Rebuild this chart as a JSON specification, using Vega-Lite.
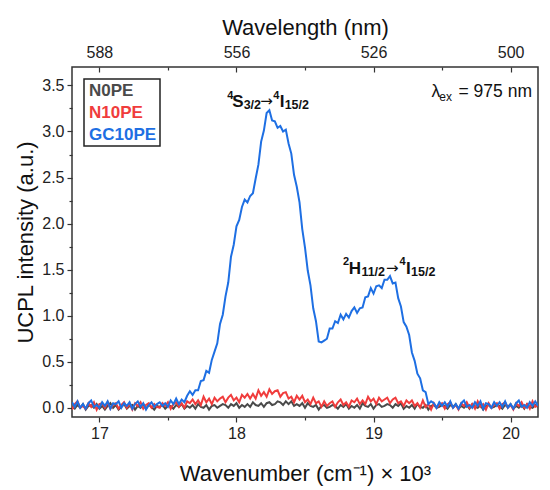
{
  "$schema": "https://vega.github.io/schema/vega-lite/v6.json",
  "width": 466,
  "height": 350,
  "padding": {"left": 14, "top": 16, "right": 5, "bottom": 5},
  "background": "white",
  "config": {
    "font": "Liberation Sans",
    "view": {"stroke": "#333333", "strokeWidth": 1.5},
    "axis": {"domain": false, "grid": false, "tickColor": "#333333", "tickWidth": 1.2, "labelColor": "#222222", "titleColor": "#111111", "labelFontSize": 16, "titleFontSize": 22, "titleFontWeight": "normal"},
    "legend": {"symbolType": "circle", "symbolSize": 0, "symbolStrokeWidth": 0, "symbolOpacity": 0, "columnPadding": 0},
    "text": {"color": "#111111", "font": "Liberation Sans"}
  },
  "data": {"values": [
    {"x":16.80,"N0PE":0.01,"N10PE":-0.02,"GC10PE":0.06},
    {"x":16.82,"N0PE":-0.01,"N10PE":0.04,"GC10PE":0.01},
    {"x":16.84,"N0PE":0.03,"N10PE":0.07,"GC10PE":0.07},
    {"x":16.86,"N0PE":0.00,"N10PE":0.00,"GC10PE":0.00},
    {"x":16.88,"N0PE":0.04,"N10PE":0.02,"GC10PE":0.04},
    {"x":16.90,"N0PE":-0.02,"N10PE":-0.01,"GC10PE":-0.01},
    {"x":16.92,"N0PE":0.02,"N10PE":0.05,"GC10PE":0.05},
    {"x":16.94,"N0PE":0.03,"N10PE":0.01,"GC10PE":0.08},
    {"x":16.96,"N0PE":0.00,"N10PE":0.06,"GC10PE":0.01},
    {"x":16.98,"N0PE":0.04,"N10PE":-0.02,"GC10PE":0.03},
    {"x":17.00,"N0PE":-0.01,"N10PE":0.04,"GC10PE":0.00},
    {"x":17.02,"N0PE":0.02,"N10PE":0.05,"GC10PE":0.06},
    {"x":17.04,"N0PE":-0.02,"N10PE":0.00,"GC10PE":0.02},
    {"x":17.06,"N0PE":0.02,"N10PE":0.06,"GC10PE":0.07},
    {"x":17.08,"N0PE":0.05,"N10PE":-0.01,"GC10PE":-0.01},
    {"x":17.10,"N0PE":0.00,"N10PE":0.03,"GC10PE":0.05},
    {"x":17.12,"N0PE":0.03,"N10PE":0.05,"GC10PE":0.04},
    {"x":17.14,"N0PE":-0.02,"N10PE":-0.01,"GC10PE":0.07},
    {"x":17.16,"N0PE":0.01,"N10PE":0.03,"GC10PE":0.00},
    {"x":17.18,"N0PE":0.04,"N10PE":0.06,"GC10PE":0.05},
    {"x":17.20,"N0PE":-0.01,"N10PE":0.00,"GC10PE":0.02},
    {"x":17.22,"N0PE":0.02,"N10PE":0.04,"GC10PE":0.06},
    {"x":17.24,"N0PE":0.03,"N10PE":-0.02,"GC10PE":-0.01},
    {"x":17.26,"N0PE":-0.02,"N10PE":0.05,"GC10PE":0.04},
    {"x":17.28,"N0PE":0.02,"N10PE":0.02,"GC10PE":0.07},
    {"x":17.30,"N0PE":0.00,"N10PE":0.06,"GC10PE":0.01},
    {"x":17.32,"N0PE":0.04,"N10PE":-0.01,"GC10PE":0.05},
    {"x":17.34,"N0PE":-0.01,"N10PE":0.03,"GC10PE":-0.02},
    {"x":17.36,"N0PE":0.03,"N10PE":0.05,"GC10PE":0.03},
    {"x":17.38,"N0PE":0.01,"N10PE":0.00,"GC10PE":0.06},
    {"x":17.40,"N0PE":-0.02,"N10PE":0.04,"GC10PE":0.01},
    {"x":17.42,"N0PE":0.02,"N10PE":0.01,"GC10PE":0.04},
    {"x":17.44,"N0PE":0.01,"N10PE":0.00,"GC10PE":0.06},
    {"x":17.46,"N0PE":0.03,"N10PE":0.05,"GC10PE":0.02},
    {"x":17.48,"N0PE":-0.01,"N10PE":0.02,"GC10PE":0.05},
    {"x":17.50,"N0PE":0.02,"N10PE":0.06,"GC10PE":0.01},
    {"x":17.52,"N0PE":0.02,"N10PE":-0.01,"GC10PE":0.08},
    {"x":17.54,"N0PE":-0.01,"N10PE":0.04,"GC10PE":0.04},
    {"x":17.56,"N0PE":0.03,"N10PE":0.06,"GC10PE":0.10},
    {"x":17.58,"N0PE":0.01,"N10PE":0.01,"GC10PE":0.04},
    {"x":17.60,"N0PE":0.04,"N10PE":0.05,"GC10PE":0.09},
    {"x":17.62,"N0PE":-0.01,"N10PE":0.00,"GC10PE":0.06},
    {"x":17.64,"N0PE":0.02,"N10PE":0.07,"GC10PE":0.13},
    {"x":17.66,"N0PE":0.00,"N10PE":0.05,"GC10PE":0.18},
    {"x":17.68,"N0PE":0.03,"N10PE":0.09,"GC10PE":0.14},
    {"x":17.70,"N0PE":-0.01,"N10PE":0.04,"GC10PE":0.19},
    {"x":17.72,"N0PE":0.04,"N10PE":0.08,"GC10PE":0.19},
    {"x":17.74,"N0PE":0.01,"N10PE":0.03,"GC10PE":0.29},
    {"x":17.76,"N0PE":0.00,"N10PE":0.12,"GC10PE":0.30},
    {"x":17.78,"N0PE":0.03,"N10PE":0.06,"GC10PE":0.40},
    {"x":17.80,"N0PE":-0.02,"N10PE":0.10,"GC10PE":0.38},
    {"x":17.82,"N0PE":0.02,"N10PE":0.04,"GC10PE":0.52},
    {"x":17.84,"N0PE":0.03,"N10PE":0.11,"GC10PE":0.61},
    {"x":17.86,"N0PE":0.00,"N10PE":0.07,"GC10PE":0.70},
    {"x":17.88,"N0PE":0.02,"N10PE":0.10,"GC10PE":0.91},
    {"x":17.90,"N0PE":0.04,"N10PE":0.12,"GC10PE":1.01},
    {"x":17.92,"N0PE":0.03,"N10PE":0.06,"GC10PE":1.21},
    {"x":17.94,"N0PE":0.00,"N10PE":0.11,"GC10PE":1.36},
    {"x":17.96,"N0PE":0.04,"N10PE":0.14,"GC10PE":1.64},
    {"x":17.98,"N0PE":0.02,"N10PE":0.08,"GC10PE":1.77},
    {"x":18.00,"N0PE":0.05,"N10PE":0.11,"GC10PE":1.97},
    {"x":18.02,"N0PE":0.00,"N10PE":0.06,"GC10PE":2.04},
    {"x":18.04,"N0PE":0.03,"N10PE":0.14,"GC10PE":2.18},
    {"x":18.06,"N0PE":0.01,"N10PE":0.11,"GC10PE":2.26},
    {"x":18.08,"N0PE":0.04,"N10PE":0.15,"GC10PE":2.23},
    {"x":18.10,"N0PE":0.01,"N10PE":0.10,"GC10PE":2.30},
    {"x":18.12,"N0PE":0.06,"N10PE":0.15,"GC10PE":2.33},
    {"x":18.14,"N0PE":0.03,"N10PE":0.10,"GC10PE":2.49},
    {"x":18.16,"N0PE":0.02,"N10PE":0.19,"GC10PE":2.64},
    {"x":18.18,"N0PE":0.05,"N10PE":0.13,"GC10PE":2.89},
    {"x":18.20,"N0PE":0.01,"N10PE":0.17,"GC10PE":3.01},
    {"x":18.22,"N0PE":0.05,"N10PE":0.12,"GC10PE":3.20},
    {"x":18.24,"N0PE":0.06,"N10PE":0.20,"GC10PE":3.23},
    {"x":18.26,"N0PE":0.03,"N10PE":0.15,"GC10PE":3.12},
    {"x":18.28,"N0PE":0.04,"N10PE":0.18,"GC10PE":3.11},
    {"x":18.30,"N0PE":0.07,"N10PE":0.19,"GC10PE":3.04},
    {"x":18.32,"N0PE":0.06,"N10PE":0.12,"GC10PE":3.06},
    {"x":18.34,"N0PE":0.03,"N10PE":0.16,"GC10PE":3.00},
    {"x":18.36,"N0PE":0.07,"N10PE":0.17,"GC10PE":3.02},
    {"x":18.38,"N0PE":0.04,"N10PE":0.10,"GC10PE":2.87},
    {"x":18.40,"N0PE":0.07,"N10PE":0.12,"GC10PE":2.76},
    {"x":18.42,"N0PE":0.02,"N10PE":0.06,"GC10PE":2.53},
    {"x":18.44,"N0PE":0.04,"N10PE":0.13,"GC10PE":2.40},
    {"x":18.46,"N0PE":0.02,"N10PE":0.09,"GC10PE":2.23},
    {"x":18.48,"N0PE":0.05,"N10PE":0.13,"GC10PE":1.94},
    {"x":18.50,"N0PE":0.00,"N10PE":0.06,"GC10PE":1.74},
    {"x":18.52,"N0PE":0.05,"N10PE":0.09,"GC10PE":1.49},
    {"x":18.54,"N0PE":0.02,"N10PE":0.04,"GC10PE":1.33},
    {"x":18.56,"N0PE":0.01,"N10PE":0.11,"GC10PE":1.08},
    {"x":18.58,"N0PE":0.03,"N10PE":0.05,"GC10PE":0.94},
    {"x":18.60,"N0PE":-0.02,"N10PE":0.07,"GC10PE":0.72},
    {"x":18.62,"N0PE":0.02,"N10PE":0.01,"GC10PE":0.71},
    {"x":18.64,"N0PE":0.03,"N10PE":0.07,"GC10PE":0.73},
    {"x":18.66,"N0PE":0.00,"N10PE":0.02,"GC10PE":0.75},
    {"x":18.68,"N0PE":0.01,"N10PE":0.05,"GC10PE":0.86},
    {"x":18.70,"N0PE":0.03,"N10PE":0.07,"GC10PE":0.86},
    {"x":18.72,"N0PE":0.02,"N10PE":0.01,"GC10PE":0.94},
    {"x":18.74,"N0PE":-0.01,"N10PE":0.06,"GC10PE":0.92},
    {"x":18.76,"N0PE":0.03,"N10PE":0.09,"GC10PE":1.01},
    {"x":18.78,"N0PE":0.01,"N10PE":0.03,"GC10PE":0.96},
    {"x":18.80,"N0PE":0.04,"N10PE":0.06,"GC10PE":1.02},
    {"x":18.82,"N0PE":-0.01,"N10PE":0.01,"GC10PE":0.98},
    {"x":18.84,"N0PE":0.02,"N10PE":0.08,"GC10PE":1.05},
    {"x":18.86,"N0PE":0.00,"N10PE":0.06,"GC10PE":1.09},
    {"x":18.88,"N0PE":0.03,"N10PE":0.10,"GC10PE":1.03},
    {"x":18.90,"N0PE":-0.01,"N10PE":0.04,"GC10PE":1.08},
    {"x":18.92,"N0PE":0.05,"N10PE":0.08,"GC10PE":1.09},
    {"x":18.94,"N0PE":0.02,"N10PE":0.04,"GC10PE":1.20},
    {"x":18.96,"N0PE":0.01,"N10PE":0.12,"GC10PE":1.21},
    {"x":18.98,"N0PE":0.04,"N10PE":0.07,"GC10PE":1.30},
    {"x":19.00,"N0PE":-0.01,"N10PE":0.10,"GC10PE":1.24},
    {"x":19.02,"N0PE":0.03,"N10PE":0.04,"GC10PE":1.32},
    {"x":19.04,"N0PE":0.04,"N10PE":0.11,"GC10PE":1.33},
    {"x":19.06,"N0PE":0.01,"N10PE":0.07,"GC10PE":1.30},
    {"x":19.08,"N0PE":0.02,"N10PE":0.09,"GC10PE":1.39},
    {"x":19.10,"N0PE":0.04,"N10PE":0.11,"GC10PE":1.39},
    {"x":19.12,"N0PE":0.03,"N10PE":0.05,"GC10PE":1.43},
    {"x":19.14,"N0PE":0.00,"N10PE":0.09,"GC10PE":1.35},
    {"x":19.16,"N0PE":0.04,"N10PE":0.11,"GC10PE":1.36},
    {"x":19.18,"N0PE":0.02,"N10PE":0.05,"GC10PE":1.19},
    {"x":19.20,"N0PE":0.05,"N10PE":0.07,"GC10PE":1.10},
    {"x":19.22,"N0PE":-0.01,"N10PE":0.02,"GC10PE":0.93},
    {"x":19.24,"N0PE":0.02,"N10PE":0.08,"GC10PE":0.88},
    {"x":19.26,"N0PE":0.00,"N10PE":0.05,"GC10PE":0.79},
    {"x":19.28,"N0PE":0.03,"N10PE":0.08,"GC10PE":0.60},
    {"x":19.30,"N0PE":-0.01,"N10PE":0.02,"GC10PE":0.51},
    {"x":19.32,"N0PE":0.04,"N10PE":0.05,"GC10PE":0.37},
    {"x":19.34,"N0PE":0.01,"N10PE":0.00,"GC10PE":0.32},
    {"x":19.36,"N0PE":0.00,"N10PE":0.08,"GC10PE":0.19},
    {"x":19.38,"N0PE":0.03,"N10PE":0.01,"GC10PE":0.17},
    {"x":19.40,"N0PE":-0.02,"N10PE":0.04,"GC10PE":0.04},
    {"x":19.42,"N0PE":0.02,"N10PE":-0.02,"GC10PE":0.07},
    {"x":19.44,"N0PE":0.03,"N10PE":0.05,"GC10PE":0.05},
    {"x":19.46,"N0PE":0.00,"N10PE":0.00,"GC10PE":0.00},
    {"x":19.48,"N0PE":0.01,"N10PE":0.03,"GC10PE":0.06},
    {"x":19.50,"N0PE":0.03,"N10PE":0.05,"GC10PE":0.02},
    {"x":19.52,"N0PE":0.02,"N10PE":-0.01,"GC10PE":0.06},
    {"x":19.54,"N0PE":-0.01,"N10PE":0.04,"GC10PE":0.01},
    {"x":19.56,"N0PE":0.03,"N10PE":0.06,"GC10PE":0.07},
    {"x":19.58,"N0PE":0.01,"N10PE":0.00,"GC10PE":0.00},
    {"x":19.60,"N0PE":0.04,"N10PE":0.03,"GC10PE":0.04},
    {"x":19.62,"N0PE":-0.01,"N10PE":-0.02,"GC10PE":-0.01},
    {"x":19.64,"N0PE":0.02,"N10PE":0.05,"GC10PE":0.05},
    {"x":19.66,"N0PE":0.00,"N10PE":0.02,"GC10PE":0.08},
    {"x":19.68,"N0PE":0.03,"N10PE":0.06,"GC10PE":0.01},
    {"x":19.70,"N0PE":-0.01,"N10PE":0.00,"GC10PE":0.03},
    {"x":19.72,"N0PE":0.04,"N10PE":0.04,"GC10PE":0.00},
    {"x":19.74,"N0PE":0.01,"N10PE":-0.01,"GC10PE":0.06},
    {"x":19.76,"N0PE":0.00,"N10PE":0.07,"GC10PE":0.02},
    {"x":19.78,"N0PE":0.03,"N10PE":0.01,"GC10PE":0.07},
    {"x":19.80,"N0PE":-0.02,"N10PE":0.04,"GC10PE":-0.01},
    {"x":19.82,"N0PE":0.02,"N10PE":-0.02,"GC10PE":0.05},
    {"x":19.84,"N0PE":0.03,"N10PE":0.05,"GC10PE":0.04},
    {"x":19.86,"N0PE":0.00,"N10PE":0.00,"GC10PE":0.00},
    {"x":19.88,"N0PE":0.01,"N10PE":0.03,"GC10PE":0.06},
    {"x":19.90,"N0PE":0.03,"N10PE":0.05,"GC10PE":0.02},
    {"x":19.92,"N0PE":0.02,"N10PE":-0.01,"GC10PE":0.06},
    {"x":19.94,"N0PE":-0.01,"N10PE":0.04,"GC10PE":0.01},
    {"x":19.96,"N0PE":0.03,"N10PE":0.06,"GC10PE":0.07},
    {"x":19.98,"N0PE":0.01,"N10PE":0.00,"GC10PE":0.00},
    {"x":20.00,"N0PE":0.04,"N10PE":0.03,"GC10PE":0.04},
    {"x":20.02,"N0PE":-0.01,"N10PE":-0.02,"GC10PE":-0.01},
    {"x":20.04,"N0PE":0.02,"N10PE":0.05,"GC10PE":0.05},
    {"x":20.06,"N0PE":0.00,"N10PE":0.02,"GC10PE":0.08},
    {"x":20.08,"N0PE":0.03,"N10PE":0.06,"GC10PE":0.01},
    {"x":20.10,"N0PE":-0.01,"N10PE":0.00,"GC10PE":0.03},
    {"x":20.12,"N0PE":0.04,"N10PE":0.04,"GC10PE":0.00},
    {"x":20.14,"N0PE":0.01,"N10PE":-0.01,"GC10PE":0.06},
    {"x":20.16,"N0PE":0.00,"N10PE":0.07,"GC10PE":0.02},
    {"x":20.18,"N0PE":0.03,"N10PE":0.01,"GC10PE":0.07},
    {"x":20.20,"N0PE":0.01,"N10PE":0.03,"GC10PE":0.02}
  ]},
  "resolve": {"axis": {"x": "independent", "y": "independent"}},
  "layer": [
    {
      "transform": [{"fold": ["N0PE", "N10PE", "GC10PE"], "as": ["series", "value"]}, {"filter": "datum.series === 'N0PE'"}],
      "mark": {"type": "line", "strokeWidth": 2, "clip": true},
      "encoding": {
        "x": {"field": "x", "type": "quantitative", "scale": {"domain": [16.8, 20.2], "nice": false, "zero": false},
              "axis": {"orient": "bottom", "values": [17, 18, 19, 20], "format": "d", "title": "Wavenumber (cm⁻¹) × 10³", "tickSize": 5, "labelPadding": 3, "titlePadding": 22}},
        "y": {"field": "value", "type": "quantitative", "scale": {"domain": [-0.1, 3.7], "nice": false, "zero": false},
              "axis": {"orient": "left", "values": [0, 0.5, 1, 1.5, 2, 2.5, 3, 3.5], "format": ".1f", "title": "UCPL intensity (a.u.)", "tickSize": 5, "labelPadding": 3, "titlePadding": 4}},
        "color": {"field": "series", "type": "nominal",
                  "scale": {"domain": ["N0PE", "N10PE", "GC10PE"], "range": ["#4a4a4a", "#f03c3c", "#1e6fe3"]},
                  "legend": {"title": null, "orient": "top-left", "offset": 12, "strokeColor": "#222222", "padding": 3, "labelFontSize": 17, "labelFontWeight": "bold", "symbolType": "circle", "symbolSize": 0, "symbolStrokeWidth": 0, "symbolOpacity": 0, "labelOffset": -15, "rowPadding": 4, "fillColor": "white",
                             "encode": {"legend": {"update": {"strokeWidth": {"value": 1.5}}}, "labels": {"update": {"fill": {"scale": "color", "field": "value"}}}}}}
      }
    },
    {
      "transform": [{"fold": ["N0PE", "N10PE", "GC10PE"], "as": ["series", "value"]}, {"filter": "datum.series === 'N10PE'"}],
      "mark": {"type": "line", "strokeWidth": 2, "clip": true},
      "encoding": {
        "x": {"field": "x", "type": "quantitative",
              "axis": {"orient": "top", "values": [17, 18, 19, 20], "labelExpr": "format(10000/datum.value, '.0f')", "title": "Wavelength (nm)", "tickSize": -5, "labelPadding": 12, "titlePadding": 5}},
        "y": {"field": "value", "type": "quantitative",
              "axis": {"orient": "left", "values": [0.25, 0.75, 1.25, 1.75, 2.25, 2.75, 3.25], "labels": false, "tickSize": 3, "title": null}},
        "color": {"field": "series", "type": "nominal",
                  "scale": {"domain": ["N0PE", "N10PE", "GC10PE"], "range": ["#4a4a4a", "#f03c3c", "#1e6fe3"]},
                  "legend": {"title": null, "orient": "top-left", "offset": 12, "strokeColor": "#222222", "padding": 3, "labelFontSize": 17, "labelFontWeight": "bold", "symbolType": "circle", "symbolSize": 0, "symbolStrokeWidth": 0, "symbolOpacity": 0, "labelOffset": -15, "rowPadding": 4, "fillColor": "white",
                             "encode": {"legend": {"update": {"strokeWidth": {"value": 1.5}}}, "labels": {"update": {"fill": {"scale": "color", "field": "value"}}}}}}
      }
    },
    {
      "transform": [{"fold": ["N0PE", "N10PE", "GC10PE"], "as": ["series", "value"]}, {"filter": "datum.series === 'GC10PE'"}],
      "mark": {"type": "line", "strokeWidth": 2, "clip": true},
      "encoding": {
        "x": {"field": "x", "type": "quantitative",
              "axis": {"orient": "bottom", "values": [17.5, 18.5, 19.5], "labels": false, "tickSize": 3, "title": null}},
        "y": {"field": "value", "type": "quantitative", "axis": null},
        "color": {"field": "series", "type": "nominal",
                  "scale": {"domain": ["N0PE", "N10PE", "GC10PE"], "range": ["#4a4a4a", "#f03c3c", "#1e6fe3"]},
                  "legend": {"title": null, "orient": "top-left", "offset": 12, "strokeColor": "#222222", "padding": 3, "labelFontSize": 17, "labelFontWeight": "bold", "symbolType": "circle", "symbolSize": 0, "symbolStrokeWidth": 0, "symbolOpacity": 0, "labelOffset": -15, "rowPadding": 4, "fillColor": "white",
                             "encode": {"legend": {"update": {"strokeWidth": {"value": 1.5}}}, "labels": {"update": {"fill": {"scale": "color", "field": "value"}}}}}}
      }
    },
    {
      "data": {"values": [{"x": 17.932, "y": 3.264}]},
      "encoding": {
        "x": {"field": "x", "type": "quantitative", "axis": null},
        "y": {"field": "y", "type": "quantitative", "axis": null}
      },
      "layer": [
        {"mark": {"type": "text", "text": "4", "dx": 0, "dy": -8.5, "fontSize": 11, "fontWeight": "bold", "align": "left", "baseline": "alphabetic"}},
        {"mark": {"type": "text", "text": "S", "dx": 5, "fontSize": 17, "fontWeight": "bold", "align": "left", "baseline": "alphabetic"}},
        {"mark": {"type": "text", "text": "3/2", "dx": 16.5, "dy": 2, "fontSize": 12.5, "fontWeight": "bold", "align": "left", "baseline": "alphabetic"}},
        {"mark": {"type": "text", "text": "→", "dx": 33, "dy": -1, "fontSize": 15, "font": "DejaVu Sans", "align": "left", "baseline": "alphabetic"}},
        {"mark": {"type": "text", "text": "4", "dx": 46, "dy": -8.5, "fontSize": 11, "fontWeight": "bold", "align": "left", "baseline": "alphabetic"}},
        {"mark": {"type": "text", "text": "I", "dx": 52.5, "fontSize": 17, "fontWeight": "bold", "align": "left", "baseline": "alphabetic"}},
        {"mark": {"type": "text", "text": "15/2", "dx": 57.5, "dy": 2, "fontSize": 12.5, "fontWeight": "bold", "align": "left", "baseline": "alphabetic"}}
      ]
    },
    {
      "data": {"values": [{"x": 18.778, "y": 1.455}]},
      "encoding": {
        "x": {"field": "x", "type": "quantitative", "axis": null},
        "y": {"field": "y", "type": "quantitative", "axis": null}
      },
      "layer": [
        {"mark": {"type": "text", "text": "2", "dx": 0, "dy": -8.5, "fontSize": 11, "fontWeight": "bold", "align": "left", "baseline": "alphabetic"}},
        {"mark": {"type": "text", "text": "H", "dx": 5.6, "fontSize": 17, "fontWeight": "bold", "align": "left", "baseline": "alphabetic"}},
        {"mark": {"type": "text", "text": "11/2", "dx": 18.3, "dy": 2, "fontSize": 12.5, "fontWeight": "bold", "align": "left", "baseline": "alphabetic"}},
        {"mark": {"type": "text", "text": "→", "dx": 43, "dy": -1, "fontSize": 15, "font": "DejaVu Sans", "align": "left", "baseline": "alphabetic"}},
        {"mark": {"type": "text", "text": "4", "dx": 56.5, "dy": -8.5, "fontSize": 11, "fontWeight": "bold", "align": "left", "baseline": "alphabetic"}},
        {"mark": {"type": "text", "text": "I", "dx": 63, "fontSize": 17, "fontWeight": "bold", "align": "left", "baseline": "alphabetic"}},
        {"mark": {"type": "text", "text": "15/2", "dx": 68, "dy": 2, "fontSize": 12.5, "fontWeight": "bold", "align": "left", "baseline": "alphabetic"}}
      ]
    },
    {
      "data": {"values": [{"x": 20.156, "y": 3.373}]},
      "encoding": {
        "x": {"field": "x", "type": "quantitative",
              "axis": {"orient": "top", "values": [17.5, 18.5, 19.5], "labels": false, "tickSize": -3, "title": null}},
        "y": {"field": "y", "type": "quantitative", "axis": null}
      },
      "layer": [
        {"mark": {"type": "text", "text": "= 975 nm", "dx": 0, "fontSize": 17.5, "align": "right", "baseline": "alphabetic"}},
        {"mark": {"type": "text", "text": "ex", "dx": -80, "dy": 4, "fontSize": 12, "align": "right", "baseline": "alphabetic"}},
        {"mark": {"type": "text", "text": "λ", "dx": -91.7, "fontSize": 17.5, "align": "right", "baseline": "alphabetic"}}
      ]
    }
  ]
}
